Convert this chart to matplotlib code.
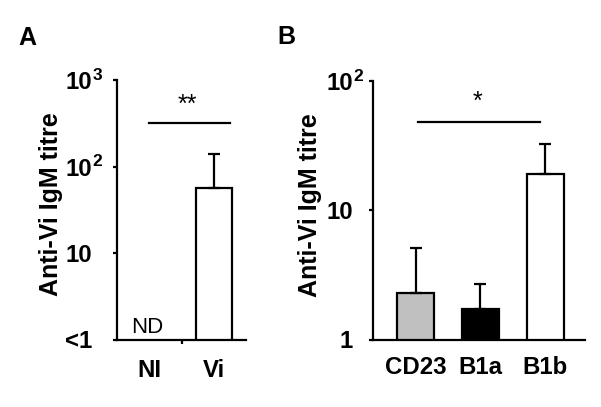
import numpy as np
import matplotlib
matplotlib.use("Agg")
import matplotlib.pyplot as plt
import matplotlib.transforms as mtransforms

plt.rcParams['font.family'] = ['Liberation Sans', 'DejaVu Sans']

# panel A: non-immunised vs Vi-immunised
groups_a = ["NI", "Vi"]
titre_a = [np.nan, 57]
err_top_a = [np.nan, 140]
yticks_a = [1, 10, 100, 1000]
yticklabels_a = ["<1", "10", "10", "10"]
yexp_a = ["", "", "2", "3"]

# panel B: B cell subsets
groups_b = ["CD23", "B1a", "B1b"]
titre_b = [2.3, 1.72, 19.0]
err_top_b = [5.1, 2.69, 32.4]
colors_b = ["#c0c0c0", "black", "white"]
yticks_b = [1, 10, 100]
yticklabels_b = ["1", "10", "10"]
yexp_b = ["", "", "2"]

ylabel = "Anti-Vi IgM titre"
fs = 17.3
lw = 1.6

fig = plt.figure(figsize=(6.01, 4.07), dpi=100)
ax_a = fig.add_axes([116.5 / 601, 1 - 339.5 / 407, 130 / 601, 259.5 / 407])
ax_b = fig.add_axes([373 / 601, 1 - 339.5 / 407, 212 / 601, 258.5 / 407])


def style_axis(ax, ticks, labels, exps, pad):
    ax.set_yscale("log")
    for s in ["top", "right"]:
        ax.spines[s].set_visible(False)
    for s in ["left", "bottom"]:
        ax.spines[s].set_linewidth(lw)
    ax.minorticks_off()
    ax.set_yticks(ticks)
    ax.set_yticklabels(labels, fontsize=fs, fontweight="bold")
    ax.tick_params(axis="y", direction="out", length=3, width=lw, pad=pad)
    # exponents drawn right after the "10" tick labels
    trans = mtransforms.blended_transform_factory(ax.transAxes, ax.transData)
    for t, e in zip(ticks, exps):
        if e:
            ax.annotate(e, xy=(0, t), xycoords=trans, xytext=(-(3 + pad) + 0.2, 3.5),
                        textcoords="offset points", ha="left", va="center",
                        fontsize=12.5, fontweight="bold", annotation_clip=False)


# ---- panel A ----
xa = np.arange(len(groups_a))
vals_a = np.array(titre_a, dtype=float)
errs_a = np.array(err_top_a, dtype=float) - vals_a
ax_a.bar(xa[1:], vals_a[1:], width=0.56, color="white", edgecolor="black", linewidth=lw,
         yerr=[[0], errs_a[1:]], error_kw=dict(ecolor="black", elinewidth=lw, capsize=4, capthick=lw),
         zorder=2)
style_axis(ax_a, yticks_a, yticklabels_a, yexp_a, pad=14.5)
ax_a.set_ylim(1, 1000)
ax_a.set_xlim(-0.5, 1.5)
ax_a.set_xticks(xa)
ax_a.set_xticklabels(groups_a, fontsize=fs, fontweight="bold")
ax_a.tick_params(axis="x", length=0, pad=14)
ax_a.set_xticks([0.5], minor=True)
ax_a.tick_params(axis="x", which="minor", direction="out", length=3, width=lw)
ax_a.text(-0.02, 1.19, "ND", ha="center", va="baseline", fontsize=16)
ax_a.plot([0, 1.25], [320, 320], color="black", lw=lw, clip_on=False)
ax_a.text(0.59, 370, "**", ha="center", va="bottom", fontsize=18)
ax_a.set_ylabel(ylabel, fontsize=18, fontweight="bold")
ax_a.yaxis.set_label_coords(-0.41, 0.52)

# ---- panel B ----
xb = np.arange(len(groups_b))
vals_b = np.array(titre_b)
errs_b = np.array(err_top_b) - vals_b
ax_b.bar(xb, vals_b, width=0.58, color=colors_b, edgecolor="black", linewidth=lw,
         yerr=[np.zeros(len(xb)), errs_b],
         error_kw=dict(ecolor="black", elinewidth=lw, capsize=4, capthick=lw), zorder=2)
style_axis(ax_b, yticks_b, yticklabels_b, yexp_b, pad=11.5)
ax_b.set_ylim(1, 100)
ax_b.set_xlim(-0.654, 2.608)
ax_b.set_xticks(xb)
ax_b.set_xticklabels(groups_b, fontsize=fs, fontweight="bold")
ax_b.tick_params(axis="x", length=0, pad=12)
ax_b.plot([0.04, 1.92], [48, 48], color="black", lw=lw, clip_on=False)
ax_b.text(0.96, 56, "*", ha="center", va="bottom", fontsize=18)
ax_b.set_ylabel(ylabel, fontsize=18, fontweight="bold")
ax_b.yaxis.set_label_coords(-0.242, 0.52)

fig.text(27 / 601, 1 - 38 / 407, "A", ha="center", va="center", fontsize=18, fontweight="bold")
fig.text(286 / 601, 1 - 37 / 407, "B", ha="center", va="center", fontsize=18, fontweight="bold")

fig.savefig("out.png", dpi=100)
